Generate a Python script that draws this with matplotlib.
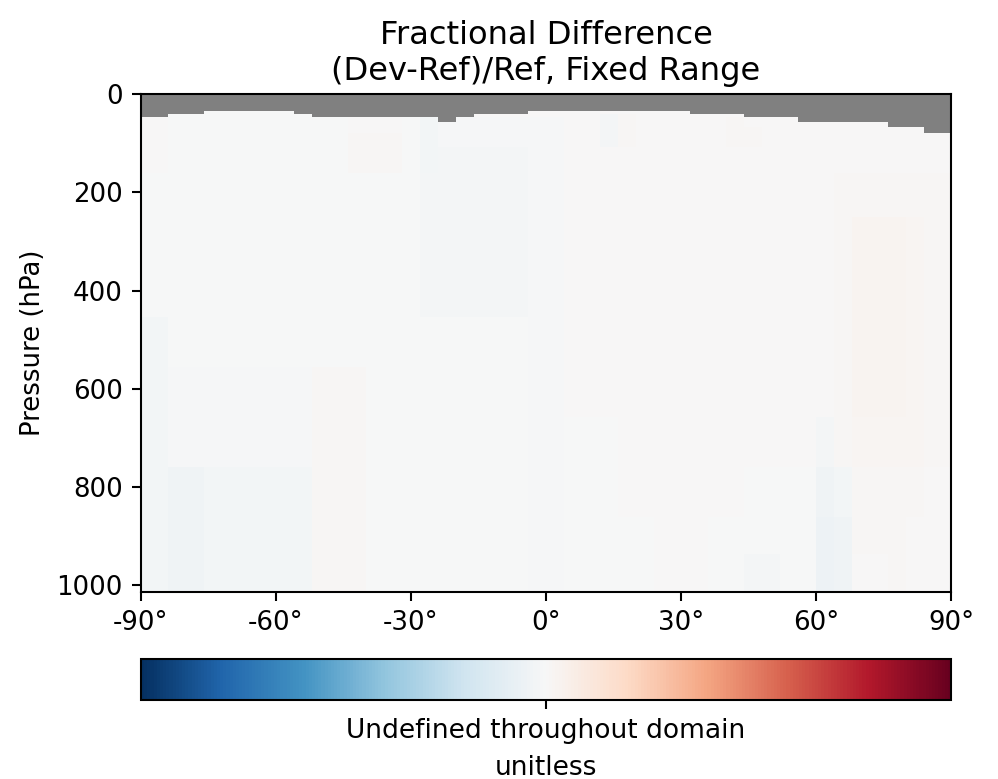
import numpy as np
import matplotlib
matplotlib.use("Agg")
import matplotlib.pyplot as plt

# ---------------- data ----------------
# latitude cell edges (4x5 grid, half-size polar cells)
lat_edges = [-90, -88, -84, -80, -76, -72, -68, -64, -60, -56, -52, -48, -44, -40,
             -36, -32, -28, -24, -20, -16, -12, -8, -4, 0, 4, 8, 12, 16, 20, 24,
             28, 32, 36, 40, 44, 48, 52, 56, 60, 64, 68, 72, 76, 80, 84, 88, 90]

# pressure band edges (hPa), surface -> top (subset of GEOS 72-level edges)
pres_edges = [1013.25, 936.91, 860.49, 758.62, 656.76, 554.92, 453.07, 351.23,
              249.39, 160.17, 108.66, 78.51, 66.60, 56.39, 47.64, 40.18, 33.81, 0.01]

# highest valid pressure edge in each latitude column (above it: undefined)
top_valid = [47.64, 47.64, 40.18, 40.18, 33.81, 33.81, 33.81, 33.81, 33.81, 40.18,
             47.64, 47.64, 47.64, 47.64, 47.64, 47.64, 47.64, 56.39, 47.64, 40.18,
             40.18, 40.18, 33.81, 33.81, 33.81, 33.81, 33.81, 33.81, 33.81, 33.81,
             33.81, 40.18, 40.18, 40.18, 47.64, 47.64, 47.64, 56.39, 56.39, 56.39,
             56.39, 56.39, 66.60, 66.60, 78.51, 78.51]

# fractional difference x100, rows bottom (surface) -> top, 46 latitude columns
frac_diff_x100 = [
    [-6, -6, -8, -8, -5, -5, -5, -5, -5, -5, 3, 3, 3, -1, -1, -1, -1, -1, -1, -1, -1, -1, -3, -3, -1, -1, -1, -1, -1, 0, 0, 0, -1, -1, -4, -4, -1, -1, -10, -8, 1, 1, 2, 1, 0, 0],
    [-6, -6, -8, -8, -5, -5, -5, -5, -5, -5, 3, 3, 3, -1, -1, -1, -1, -1, -1, -1, -1, -1, -3, -3, -1, -1, -1, -1, -1, 0, 0, 0, -1, -1, -1, -1, -1, -1, -10, -8, 2, 2, 2, 1, 0, 0],
    [-6, -6, -8, -8, -5, -5, -5, -5, -5, -5, 3, 3, 3, -1, -1, -1, -1, -1, -1, -1, -1, -1, -3, -3, -1, -1, -1, 1, 1, 1, 1, 0, 0, 0, -1, -1, -1, -1, -8, -6, 2, 2, 2, 2, 1, 0],
    [-6, -6, -3, -3, -3, -3, -3, -3, -3, -3, 3, 3, 3, -1, -1, -1, -1, -1, -1, -1, -1, -1, -3, -3, -1, -1, -1, 1, 1, 1, 1, 0, 0, 0, 0, 0, 0, 0, -4, 2, 4, 4, 4, 4, 3, 2],
    [-6, -6, -3, -3, -3, -3, -3, -3, -3, -3, 3, 3, 3, -1, -1, -1, -1, -1, -1, -1, -1, -1, -3, -3, 0, 0, 0, 1, 1, 1, 1, 0, 0, 0, 0, 0, 0, 0, 0, 3, 5, 5, 5, 4, 3, 2],
    [-6, -6, -1, -1, -1, -1, -1, -1, -1, -1, -1, -1, -1, -1, -1, -1, -1, -1, -1, -1, -1, -1, -3, -3, 0, 0, 0, 1, 1, 1, 1, 0, 0, 0, 0, 0, 0, 0, 0, 3, 5, 5, 5, 4, 3, 2],
    [-1, -1, -1, -1, -1, -1, -1, -1, -1, -1, -1, -1, -1, -1, -1, -1, -4, -4, -4, -4, -4, -4, -3, -3, 0, 0, 0, 1, 1, 1, 1, 0, 0, 0, 0, 0, 0, 0, 0, 3, 5, 5, 5, 4, 3, 2],
    [-1, -1, -1, -1, -1, -1, -1, -1, -1, -1, -1, -1, -1, -1, -1, -1, -4, -4, -4, -4, -4, -4, -3, -3, 0, 0, 0, 0, 0, 0, 0, 0, 0, 0, 0, 0, 0, 0, 0, 3, 5, 5, 5, 4, 3, 2],
    [-1, -1, -1, -1, -1, -1, -1, -1, -1, -1, -1, -1, -1, -1, -1, -1, -4, -4, -4, -4, -4, -4, -3, -3, 0, 0, 0, 0, 0, 0, 0, 0, 0, 0, 0, 0, 0, 0, 0, 2, 2, 2, 2, 2, 2, 2],
    [1, 1, -1, -1, -1, -1, -1, -1, -1, -1, -1, -1, 2, 2, 2, -1, -6, -4, -4, -4, -4, -4, -3, -3, 0, 0, 0, 0, 0, 0, 0, 0, 0, 0, 0, 0, 0, 0, 0, 0, 0, 0, 0, 0, 0, 0],
    [0, 0, -1, -1, -1, -1, -1, -1, -1, -1, -1, -1, 2, 2, 2, -1, -6, -2, -3, -3, -2, -2, -3, -3, 0, 0, -4, 3, 0, 0, 0, 0, 0, 3, 2, 0, 0, 0, 0, 0, 0, 0, 0, 0, 0, 0],
    [0, 0, -1, -1, -1, -1, -1, -1, -1, -1, -1, -1, 0, 0, 0, -1, -6, -2, -2, -2, -2, -2, -3, -3, 0, 0, -4, 3, 0, 0, 0, 0, 0, 3, 2, 0, 0, 0, 0, 0, 0, 0, 0, 0, 0, 0],
    [0, 0, -1, -1, -1, -1, -1, -1, -1, -1, -1, -1, 0, 0, 0, -1, -6, -2, -2, -2, -2, -2, -3, -3, 0, 0, -4, 3, 0, 0, 0, 0, 0, 3, 0, 0, 0, 0, 0, 0, 0, 0, 0, 0, 0, 0],
    [0, 0, -1, -1, -1, -1, -1, -1, -1, -1, -1, -1, 0, 0, 0, -1, -6, -2, -2, -2, -2, -2, -3, -3, 0, 0, -4, 3, 0, 0, 0, 0, 0, 3, 0, 0, 0, 0, 0, 0, 0, 0, 0, 0, 0, 0],
    [0, 0, -1, -1, -1, -1, -1, -1, -1, -1, -1, -1, 0, 0, 0, 0, 0, 0, 0, 0, 0, 0, 0, 0, 0, 0, -4, 3, 0, 0, 0, 0, 0, 0, 0, 0, 0, 0, 0, 0, 0, 0, 0, 0, 0, 0],
    [0, 0, -1, -1, -1, -1, -1, -1, -1, -1, -1, -1, 0, 0, 0, 0, 0, 0, 0, 0, 0, 0, 0, 0, 0, 0, 0, 0, 0, 0, 0, 0, 0, 0, 0, 0, 0, 0, 0, 0, 0, 0, 0, 0, 0, 0],
    [0, 0, 0, 0, 0, 0, 0, 0, 0, 0, 0, 0, 0, 0, 0, 0, 0, 0, 0, 0, 0, 0, 0, 0, 0, 0, 0, 0, 0, 0, 0, 0, 0, 0, 0, 0, 0, 0, 0, 0, 0, 0, 0, 0, 0, 0],
]

xtick_vals = [-90, -60, -30, 0, 30, 60, 90]
xtick_labels = ["-90°", "-60°", "-30°", "0°", "30°", "60°", "90°"]
ytick_vals = [0, 200, 400, 600, 800, 1000]
vmin, vmax = -2.0, 2.0

# ---------------- plot ----------------
DPI = 187
fig = plt.figure(figsize=(999 / DPI, 779 / DPI), dpi=DPI)
ax = fig.add_axes([141 / 999, 1 - 592 / 779, 810 / 999, 498 / 779])
ax.set_facecolor("grey")

lat_e = np.array(lat_edges, dtype=float)
p_e = np.array(pres_edges, dtype=float)
z = np.array(frac_diff_x100, dtype=float) / 100.0
tv = np.array(top_valid, dtype=float)
# undefined where the band's top edge is above the column's valid top
undefined = p_e[1:, None] < (tv[None, :] - 0.01)
z = np.ma.masked_array(z, mask=undefined)

ax.pcolormesh(lat_e, p_e, z, cmap="RdBu_r", vmin=vmin, vmax=vmax, shading="flat")
ax.set_xlim(-90, 90)
ax.set_ylim(1013.25, 0)
ax.set_xticks(xtick_vals)
ax.set_xticklabels(xtick_labels)
ax.set_yticks(ytick_vals)
ax.set_ylabel("Pressure (hPa)")
ax.set_title("Fractional Difference\n(Dev-Ref)/Ref, Fixed Range", fontsize=12.4, pad=5.5)

cax = fig.add_axes([141 / 999, 1 - 700 / 779, 810 / 999, 41 / 779])
sm = matplotlib.cm.ScalarMappable(cmap="RdBu_r",
                                  norm=matplotlib.colors.Normalize(vmin=vmin, vmax=vmax))
cb = fig.colorbar(sm, cax=cax, orientation="horizontal")
cb.set_ticks([0.0])
cb.set_ticklabels(["Undefined throughout domain"])
cb.ax.tick_params(labelsize=10.2)
cb.set_label("unitless", fontsize=10.2)

fig.savefig("out.png", dpi=DPI)
